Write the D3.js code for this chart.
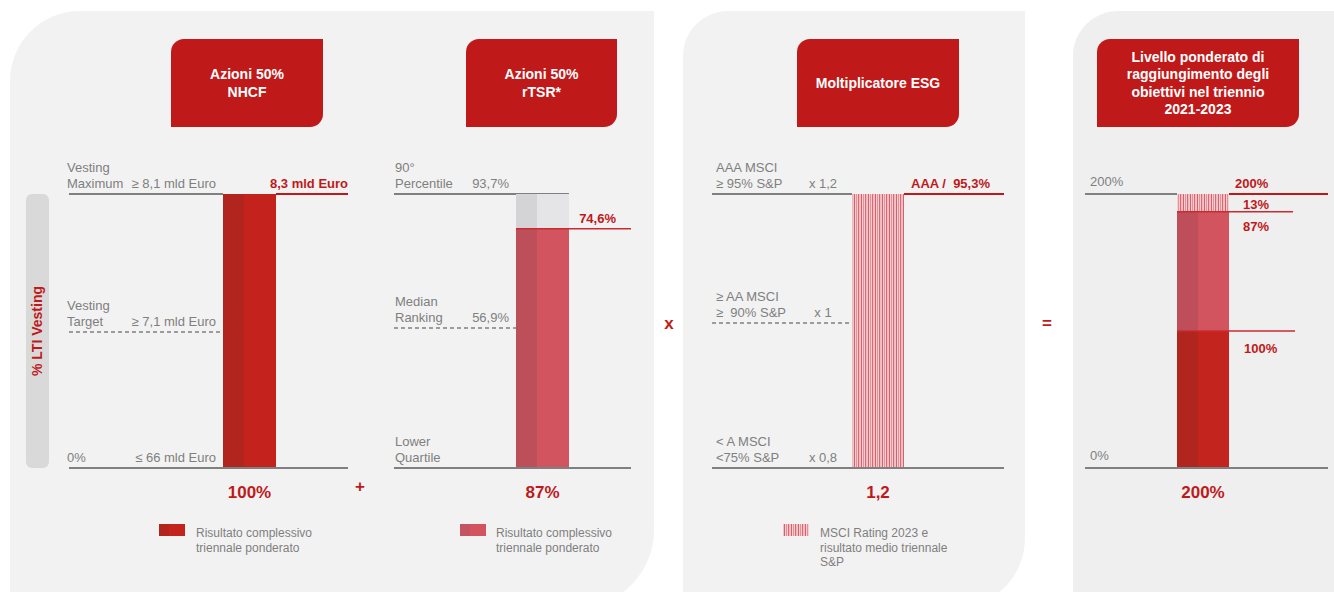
<!DOCTYPE html>
<html>
<head>
<meta charset="utf-8">
<script src="https://cdn.jsdelivr.net/npm/d3@7"></script>
<style>
  html, body { margin: 0; padding: 0; background: #ffffff; }
  svg { display: block; font-family: "Liberation Sans", Arial, sans-serif; }
  text { white-space: pre; }
</style>
</head>
<body>
<svg id="chart" width="1334" height="592"></svg>
<script>
// ---------------- DATA ----------------
// Panel 1 – Azioni 50% NHCF (scale = % vesting)
const nhcfLevels = [0, 100, 200];
const nhcfLabels = [["0%"], ["Vesting", "Target"], ["Vesting", "Maximum"]];
const nhcfThresholds = ["≤ 66 mld Euro", "≥ 7,1 mld Euro", "≥ 8,1 mld Euro"];
const nhcfResult = 200;
const nhcfResultLabel = "8,3 mld Euro";
const nhcfWeighted = "100%";

// Panel 2 – Azioni 50% rTSR
const tsrLevels = [0, 100, 200];
const tsrLabels = [["Lower", "Quartile"], ["Median", "Ranking"], ["90°", "Percentile"]];
const tsrThresholds = ["", "56,9%", "93,7%"];
const tsrResult = 174;
const tsrResultLabel = "74,6%";
const tsrWeighted = "87%";

// Panel 3 – Moltiplicatore ESG
const esgLevels = [0.8, 1, 1.2];
const esgLabels = [["< A MSCI", "<75% S&P"], ["≥ AA MSCI", "≥  90% S&P"], ["AAA MSCI", "≥ 95% S&P"]];
const esgMultipliers = ["x 0,8", "x 1", "x 1,2"];
const esgResult = 1.2;
const esgResultLabel = "AAA /  95,3%";
const esgWeighted = "1,2";

// Panel 4 – Livello ponderato
const totalLevels = [0, 200];
const totalLevelLabels = ["0%", "200%"];
const totalSegmentNames = ["NHCF", "rTSR", "ESG"];
const totalSegmentValues = [100, 87, 13];
const totalSegmentLabels = ["100%", "87%", "13%"];
const totalLabel = "200%";

// Headers
const headers = [
  ["Azioni 50%", "NHCF"],
  ["Azioni 50%", "rTSR*"],
  ["Moltiplicatore ESG"],
  ["Livello ponderato di", "raggiungimento degli", "obiettivi nel triennio", "2021-2023"]
];
const legendTexts = [
  ["Risultato complessivo", "triennale ponderato"],
  ["Risultato complessivo", "triennale ponderato"],
  ["MSCI Rating 2023 e", "risultato medio triennale", "S&P"]
];
const operators = ["+", "x", "="];

// ---------------- STYLE ----------------
const RED = "#c0191a";
const GRAY_TXT = "#7f7f7f";
const LINE = "#808080";
const svg = d3.select("#chart");

const defs = svg.append("defs");
const pat = defs.append("pattern").attr("id", "stripes")
  .attr("width", 7).attr("height", 10).attr("patternUnits", "userSpaceOnUse");
pat.append("rect").attr("width", 7).attr("height", 10).attr("fill", "#f6d0d3");
pat.append("rect").attr("x", 0).attr("width", 1).attr("height", 10).attr("fill", "#d9606b");
pat.append("rect").attr("x", 2).attr("width", 1).attr("height", 10).attr("fill", "#e58f97");
pat.append("rect").attr("x", 4).attr("width", 1).attr("height", 10).attr("fill", "#dc6872");
pat.append("rect").attr("x", 5.5).attr("width", 0.8).attr("height", 10).attr("fill", "#eaa3a9");

// ---------------- BACKGROUND PANELS ----------------
function panelPath(x0, y0, x1, y1, rTL, rBR) {
  const p = d3.path();
  p.moveTo(x0, y0 + rTL);
  p.arcTo(x0, y0, x0 + rTL, y0, rTL);
  p.lineTo(x1, y0);
  p.lineTo(x1, y1 - rBR);
  p.arcTo(x1, y1, x1 - rBR, y1, rBR);
  p.lineTo(x0, y1);
  p.closePath();
  return p.toString();
}
svg.append("path").attr("d", panelPath(10, 11, 654, 608, 70, 78)).attr("fill", "#f2f2f2");
svg.append("path").attr("d", panelPath(683, 11, 1025, 608, 45, 70)).attr("fill", "#f2f2f2");
svg.append("path").attr("d", panelPath(1073, 11, 1400, 700, 45, 0)).attr("fill", "#efefef");

// ---------------- HEADER BOXES ----------------
function boxPath(x0, y0, x1, y1, r) {
  const p = d3.path();
  p.moveTo(x0, y0 + r);
  p.arcTo(x0, y0, x0 + r, y0, r);
  p.lineTo(x1, y0);
  p.lineTo(x1, y1 - r);
  p.arcTo(x1, y1, x1 - r, y1, r);
  p.lineTo(x0, y1);
  p.closePath();
  return p.toString();
}
const headerBoxes = [[171, 323], [466, 617], [797, 959], [1097, 1299]];
headers.forEach((lines, i) => {
  const [a, b] = headerBoxes[i];
  svg.append("path").attr("d", boxPath(a, 39, b, 127, 13)).attr("fill", RED);
  const cx = (a + b) / 2, lh = 17.5;
  const start = 83 - (lines.length - 1) * lh / 2;
  lines.forEach((t, j) => {
    svg.append("text").attr("x", cx).attr("y", start + j * lh + 5)
      .attr("text-anchor", "middle").attr("fill", "#fff")
      .attr("font-size", 14).attr("font-weight", "bold").text(t);
  });
});

// ---------------- helpers ----------------
function hline(x0, x1, y, color, w, dash) {
  const l = svg.append("line").attr("x1", x0).attr("x2", x1).attr("y1", y).attr("y2", y)
    .attr("stroke", color).attr("stroke-width", w);
  if (dash) l.attr("stroke-dasharray", dash);
  return l;
}
function txt(x, y, s, opts = {}) {
  return svg.append("text").attr("x", x).attr("y", y)
    .attr("fill", opts.fill || GRAY_TXT)
    .attr("font-size", opts.size || 13)
    .attr("font-weight", opts.bold ? "bold" : "normal")
    .attr("text-anchor", opts.anchor || "start")
    .text(s);
}
function splitBar(x, w, yTop, yBot, cLeft, cRight) {
  const wl = Math.round(w * 0.4);
  svg.append("rect").attr("x", x).attr("y", yTop).attr("width", wl).attr("height", yBot - yTop).attr("fill", cLeft);
  svg.append("rect").attr("x", x + wl).attr("y", yTop).attr("width", w - wl).attr("height", yBot - yTop).attr("fill", cRight);
}
function levelLabels(scale, levels, labels, x) {
  levels.forEach((v, i) => {
    const y = scale(v);
    const lines = labels[i];
    lines.forEach((t, j) => {
      txt(x, y - 6 - (lines.length - 1 - j) * 16.5, t);
    });
  });
}

// ---------------- PANEL 1: NHCF ----------------
{
  const y = d3.scaleLinear().domain(nhcfLevels).range([468, 332, 194]);
  const x0 = 69, x1 = 348, bx = 223, bw = 53;
  svg.append("rect").attr("x", 26).attr("y", y(200)).attr("width", 23).attr("height", y(0) - y(200))
    .attr("rx", 6).attr("fill", "#d9d9d9");
  svg.append("text").attr("transform", `translate(42,${(y(0) + y(200)) / 2}) rotate(-90)`)
    .attr("text-anchor", "middle").attr("fill", RED).attr("font-size", 14).attr("font-weight", "bold")
    .text("% LTI Vesting");
  hline(x0, bx, y(200), LINE, 2);
  hline(bx + bw, x1, y(nhcfResult), RED, 2);
  hline(x0, bx, y(100), LINE, 1.3, "4,3");
  splitBar(bx, bw, y(nhcfResult), y(0), "#b1251e", "#c4231d");
  hline(x0, x1, y(0), LINE, 2);
  levelLabels(y, nhcfLevels, nhcfLabels, 67);
  nhcfLevels.forEach((v, i) => txt(216, y(v) - 6, nhcfThresholds[i], { anchor: "end" }));
  txt(x1, y(nhcfResult) - 6, nhcfResultLabel, { fill: RED, bold: true, anchor: "end" });
  txt(bx + bw / 2, 498, nhcfWeighted, { fill: RED, bold: true, size: 17, anchor: "middle" });
  splitBar(159, 26, 524, 536, "#b1251e", "#c4231d");
  legendTexts[0].forEach((t, j) => txt(196, 537 + j * 14.5, t, { size: 12 }));
}

// ---------------- PANEL 2: rTSR ----------------
{
  const y = d3.scaleLinear().domain(tsrLevels).range([468, 328, 194]);
  const x0 = 394, x1 = 631, bx = 516, bw = 53;
  hline(x0, bx + bw, y(200), LINE, 2);
  hline(x0, bx, y(100), LINE, 1.3, "4,3");
  splitBar(bx, bw, y(200), y(tsrResult), "#d4d4d6", "#e5e5e7");
  splitBar(bx, bw, y(tsrResult), y(0), "#bd4f5a", "#d1545f");
  hline(bx, x1, y(tsrResult), "#cc2a30", 1.5);
  hline(x0, x1, y(0), LINE, 2);
  levelLabels(y, tsrLevels, tsrLabels, 395);
  tsrLevels.forEach((v, i) => txt(509, y(v) - 6, tsrThresholds[i], { anchor: "end" }));
  txt(616, y(tsrResult) - 6, tsrResultLabel, { fill: RED, bold: true, anchor: "end" });
  txt(bx + bw / 2, 498, tsrWeighted, { fill: RED, bold: true, size: 17, anchor: "middle" });
  splitBar(460, 26, 524, 536, "#c45461", "#d1545f");
  legendTexts[1].forEach((t, j) => txt(496, 537 + j * 14.5, t, { size: 12 }));
}

// ---------------- PANEL 3: ESG ----------------
{
  const y = d3.scaleLinear().domain(esgLevels).range([468, 323, 194]);
  const x0 = 712, x1 = 1004, bx = 852, bw = 52;
  hline(x0, bx, y(1.2), LINE, 2);
  hline(bx + bw, x1, y(esgResult), RED, 2);
  hline(x0, bx, y(1), LINE, 1.3, "4,3");
  svg.append("rect").attr("x", bx).attr("y", y(esgResult)).attr("width", bw)
    .attr("height", y(0.8) - y(esgResult)).attr("fill", "url(#stripes)");
  hline(x0, x1, y(0.8), LINE, 2);
  levelLabels(y, esgLevels, esgLabels, 716);
  esgLevels.forEach((v, i) => txt(823, y(v) - 6, esgMultipliers[i], { anchor: "middle" }));
  txt(990, y(esgResult) - 6, esgResultLabel, { fill: RED, bold: true, anchor: "end" });
  txt(bx + bw / 2, 498, esgWeighted, { fill: RED, bold: true, size: 17, anchor: "middle" });
  svg.append("rect").attr("x", 783).attr("y", 524).attr("width", 26).attr("height", 12).attr("fill", "url(#stripes)");
  legendTexts[2].forEach((t, j) => txt(820, 537 + j * 14.5, t, { size: 12 }));
}

// ---------------- PANEL 4: TOTAL ----------------
{
  const y = d3.scaleLinear().domain(totalLevels).range([468, 194]);
  const x0 = 1085, x1 = 1328, bx = 1177, bw = 52;
  const stacked = [];
  let acc = 0;
  totalSegmentValues.forEach((v, i) => { stacked.push({ name: totalSegmentNames[i], y0: acc, y1: acc + v, label: totalSegmentLabels[i] }); acc += v; });
  hline(x0, bx, y(200), LINE, 2);
  hline(bx + bw, x1, y(acc), RED, 2);
  const fills = { NHCF: ["#b0251e", "#c3241d"], rTSR: ["#be4f5a", "#d1545f"] };
  stacked.forEach(s => {
    if (s.name === "ESG") {
      svg.append("rect").attr("x", bx).attr("y", y(s.y1)).attr("width", bw)
        .attr("height", y(s.y0) - y(s.y1)).attr("fill", "url(#stripes)");
    } else {
      splitBar(bx, bw, y(s.y1), y(s.y0), fills[s.name][0], fills[s.name][1]);
    }
  });
  hline(bx, 1295, y(stacked[0].y1), "#cc2a30", 1.5);
  hline(bx, 1293, y(stacked[1].y1), "#cc2a30", 1.5);
  hline(x0, x1, y(0), LINE, 2);
  totalLevels.forEach((v, i) => txt(1090, y(v) - 8, totalLevelLabels[i]));
  txt(1235, y(acc) - 6, totalLabel, { fill: RED, bold: true });
  txt(1243, y(stacked[2].y0) - 3, stacked[2].label, { fill: RED, bold: true });
  txt(1243, y(stacked[1].y1) + 19, stacked[1].label, { fill: RED, bold: true });
  txt(1244, y(stacked[0].y1) + 22, stacked[0].label, { fill: RED, bold: true });
  txt(bx + bw / 2, 498, totalLabel, { fill: RED, bold: true, size: 17, anchor: "middle" });
}

// ---------------- OPERATORS ----------------
const opPos = [[360, 492], [669, 329], [1047, 329]];
operators.forEach((o, i) => txt(opPos[i][0], opPos[i][1], o, { fill: RED, bold: true, size: 17, anchor: "middle" }));
</script>
</body>
</html>
